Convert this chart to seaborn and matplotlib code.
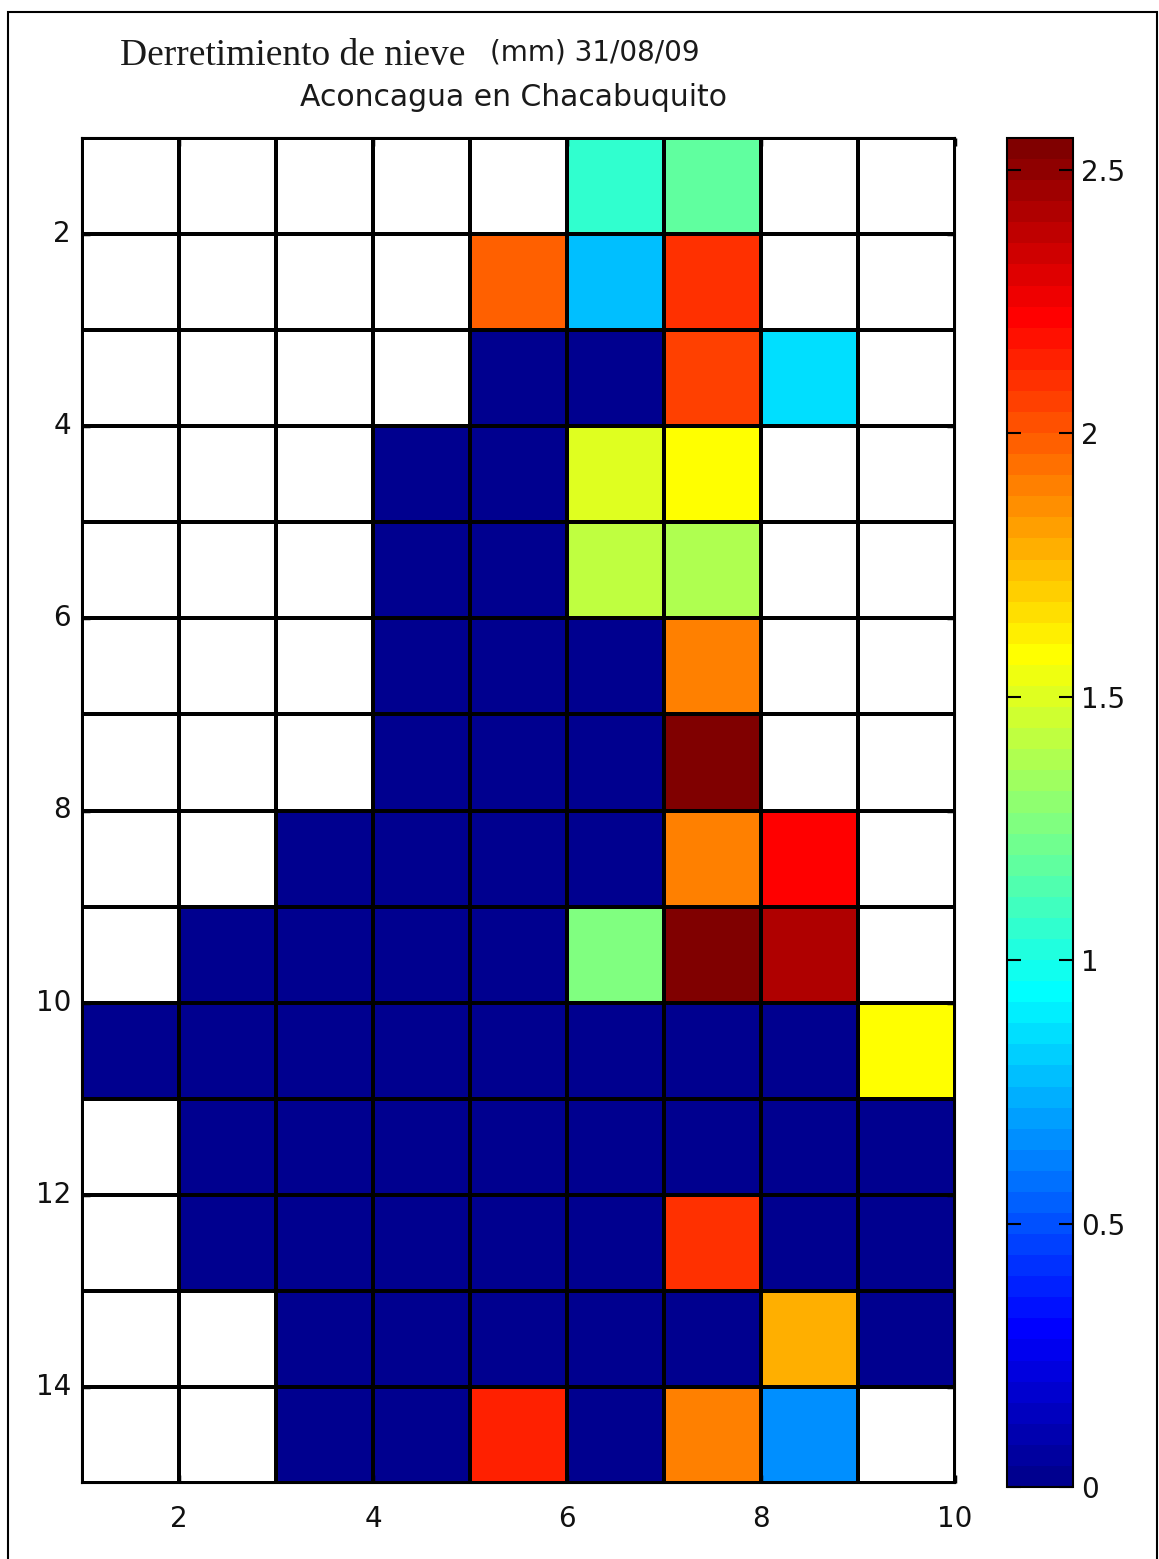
import numpy as np
import pandas as pd
import matplotlib
matplotlib.use("Agg")
import matplotlib.pyplot as plt
import seaborn as sns
from matplotlib.colors import ListedColormap
from matplotlib.patches import Rectangle

nan = np.nan

# ---- data (snow melt, mm) : rows y = 1..14, columns x = 1..9 ----
col_x = [1, 2, 3, 4, 5, 6, 7, 8, 9]
row_y = list(range(1, 15))
r01 = [nan, nan, nan, nan, nan, 1.06, 1.18, nan, nan]
r02 = [nan, nan, nan, nan, 1.98, 0.78, 2.10, nan, nan]
r03 = [nan, nan, nan, nan, 0.0, 0.0, 2.07, 0.86, nan]
r04 = [nan, nan, nan, 0.0, 0.0, 1.50, 1.58, nan, nan]
r05 = [nan, nan, nan, 0.0, 0.0, 1.42, 1.38, nan, nan]
r06 = [nan, nan, nan, 0.0, 0.0, 0.0, 1.90, nan, nan]
r07 = [nan, nan, nan, 0.0, 0.0, 0.0, 2.56, nan, nan]
r08 = [nan, nan, 0.0, 0.0, 0.0, 0.0, 1.90, 2.22, nan]
r09 = [nan, 0.0, 0.0, 0.0, 0.0, 1.26, 2.55, 2.42, nan]
r10 = [0.0, 0.0, 0.0, 0.0, 0.0, 0.0, 0.0, 0.0, 1.58]
r11 = [nan, 0.0, 0.0, 0.0, 0.0, 0.0, 0.0, 0.0, 0.0]
r12 = [nan, 0.0, 0.0, 0.0, 0.0, 0.0, 2.10, 0.0, 0.0]
r13 = [nan, nan, 0.0, 0.0, 0.0, 0.0, 0.0, 1.78, 0.0]
r14 = [nan, nan, 0.0, 0.0, 2.14, 0.0, 1.90, 0.66, nan]

x_ticks = [2, 4, 6, 8, 10]
y_ticks = [2, 4, 6, 8, 10, 12, 14]
cbar_ticks = [0, 0.5, 1, 1.5, 2, 2.5]
cbar_labels = ["0", "0.5", "1", "1.5", "2", "2.5"]
title_main = "Derretimiento de nieve"
title_units = "(mm) 31/08/09"
title_sub = "Aconcagua en Chacabuquito"

grid = pd.DataFrame([r01, r02, r03, r04, r05, r06, r07, r08, r09, r10,
                     r11, r12, r13, r14], index=row_y, columns=col_x)


def matlab_jet(m=64):
    n = int(np.ceil(m / 4))
    u = np.concatenate([np.arange(1, n + 1) / n, np.ones(n - 1),
                        np.arange(n, 0, -1) / n])
    g = int(np.ceil(n / 2)) - (1 if m % 4 == 1 else 0) + np.arange(1, len(u) + 1)
    r = g + n
    b = g - n
    J = np.zeros((m, 3))
    for ch, idxs in enumerate([r, g, b]):
        for idx, val in zip(idxs, u):
            if 1 <= idx <= m:
                J[idx - 1, ch] = val
    return ListedColormap(J)


cmap = matlab_jet(64)
vmax = np.nanmax(grid.values)

W, H = 1159, 1559
fig = plt.figure(figsize=(W / 100, H / 100), dpi=100)
fig.patch.set_facecolor("white")

ax = fig.add_axes([82 / W, 1 - 1483 / H, (955 - 82) / W, (1483 - 138) / H])
cax = fig.add_axes([1007 / W, 1 - 1487 / H, (1073 - 1007) / W, (1487 - 138) / H])

sns.heatmap(grid, ax=ax, cbar_ax=cax, cmap=cmap, vmin=0, vmax=vmax,
            linewidths=1.5, linecolor="black", cbar=True)

font_sans = "DejaVu Sans"
fs = 20

# axis ticks (pcolor coordinates: cell edge x -> heatmap x - 1)
ax.set_xticks([t - col_x[0] for t in x_ticks])
ax.set_xticklabels([str(t) for t in x_ticks], rotation=0,
                   fontsize=fs, family=font_sans)
ax.set_yticks([t - row_y[0] for t in y_ticks])
ax.set_yticklabels([str(t) for t in y_ticks], rotation=0,
                   fontsize=fs, family=font_sans)
ax.set_xlabel("")
ax.set_ylabel("")
ax.set_xticks(np.arange(0, len(col_x) + 1), minor=True)
ax.set_yticks(np.arange(0, len(row_y) + 1), minor=True)
ax.grid(which="minor", color="black", linewidth=1.5)
ax.grid(which="major", visible=False)
ax.set_axisbelow(False)
ax.tick_params(which="minor", length=0)
ax.tick_params(which="major", direction="in", length=6, width=2.5,
               color="black", top=True, right=True, labelcolor="#111111")
ax.tick_params(axis="x", pad=16)
ax.tick_params(axis="y", pad=8)
for s in ax.spines.values():
    s.set_visible(True)
    s.set_color("black")
    s.set_linewidth(1.5)

# colorbar
cbar = ax.collections[0].colorbar
cbar.set_ticks(cbar_ticks)
cbar.set_ticklabels(cbar_labels)
cax.tick_params(direction="in", length=10, width=1.5, left=True, right=True,
                labelsize=fs, labelcolor="#111111", pad=6)
for lab in cax.get_yticklabels():
    lab.set_family(font_sans)
cbar.outline.set_visible(True)
cbar.outline.set_edgecolor("black")
cbar.outline.set_linewidth(1.5)

# titles
fig.text(120 / W, 1 - 65 / H, title_main, family="Liberation Serif",
         fontsize=27, va="baseline", ha="left", color="#1a1a1a")
fig.text(490 / W, 1 - 60 / H, title_units, family=font_sans,
         fontsize=fs, va="baseline", ha="left", color="#1a1a1a")
fig.text(300 / W, 1 - 106 / H, title_sub, family=font_sans,
         fontsize=21.5, va="baseline", ha="left", color="#1a1a1a")

# figure frame
fig.patches.append(Rectangle((8 / W, -0.01), (1157 - 8) / W, 1 - 12 / H + 0.01,
                             transform=fig.transFigure, fill=False,
                             edgecolor="black", linewidth=1.5))

fig.savefig("out.png", dpi=100, facecolor="white")
